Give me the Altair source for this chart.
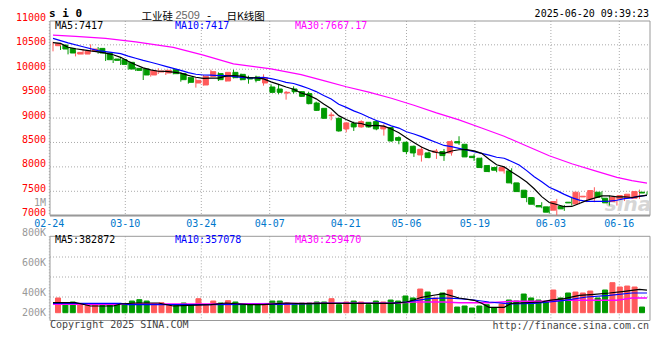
import altair as alt
import pandas as pd

# ---------------- data ----------------
opens = [10482, 10495, 10427, 10311, 10311, 10366, 10427, 10332, 10209, 10195,
         10141, 10018, 10004, 9882, 9943, 9923, 9991, 9909, 9827, 9718,
         9677, 9854, 9909, 9759, 9936, 9895, 9827, 9841, 9718, 9636,
         9595, 9513, 9595, 9540, 9500, 9308, 9199, 9049, 8995, 8777,
         8886, 8818, 8913, 8927, 8777, 8804, 8599, 8504, 8422, 8245,
         8286, 8299, 8313, 8285, 8517, 8463, 8217, 8177, 8026, 7986,
         7918, 7918, 7672, 7522, 7372, 7208, 7181, 7113, 7194, 7276,
         7240, 7385, 7344, 7481, 7358, 7290, 7344, 7370, 7358, 7481]
highs = [10564, 10515, 10447, 10379, 10413, 10509, 10454, 10359, 10263, 10236,
         10154, 10045, 10018, 9991, 10018, 9991, 10004, 9936, 9841, 9827,
         9882, 9991, 9936, 9936, 9991, 9909, 9868, 9868, 9895, 9690,
         9677, 9554, 9650, 9554, 9540, 9336, 9199, 9117, 9009, 8913,
         8927, 8954, 8913, 8954, 8872, 8804, 8626, 8517, 8436, 8422,
         8313, 8367, 8367, 8545, 8627, 8463, 8258, 8190, 8040, 8013,
         8013, 7972, 7672, 7522, 7372, 7276, 7194, 7344, 7221, 7385,
         7481, 7481, 7583, 7500, 7410, 7413, 7440, 7500, 7535, 7494]
lows = [10366, 10394, 10304, 10263, 10300, 10345, 10318, 10168, 10127, 10086,
        9991, 9963, 9779, 9848, 9902, 9882, 9895, 9745, 9704, 9623,
        9663, 9854, 9759, 9745, 9813, 9772, 9704, 9731, 9663, 9513,
        9486, 9377, 9500, 9431, 9281, 9145, 8995, 8954, 8722, 8708,
        8736, 8804, 8804, 8750, 8640, 8517, 8463, 8258, 8204, 8108,
        8177, 8163, 8122, 8231, 8449, 8204, 8122, 7972, 7890, 7890,
        7863, 7645, 7481, 7276, 7208, 7153, 7044, 7010, 7099, 7208,
        7235, 7276, 7276, 7344, 7208, 7208, 7300, 7344, 7344, 7430]
closes = [10523, 10414, 10332, 10345, 10365, 10413, 10332, 10195, 10182, 10100,
          10004, 9977, 9882, 9970, 9963, 9977, 9909, 9786, 9732, 9772,
          9854, 9950, 9786, 9936, 9827, 9786, 9800, 9772, 9827, 9527,
          9527, 9527, 9540, 9445, 9295, 9158, 8995, 9063, 8736, 8900,
          8818, 8927, 8818, 8777, 8831, 8531, 8544, 8313, 8285, 8360,
          8190, 8326, 8231, 8517, 8490, 8204, 8190, 7986, 7904, 7931,
          7986, 7672, 7494, 7372, 7235, 7181, 7072, 7290, 7140, 7262,
          7481, 7399, 7515, 7378, 7263, 7372, 7413, 7440, 7494, 7465]
volumes_k = [260, 171, 189, 159, 124, 141, 124, 150, 150, 141,
             206, 230, 206, 159, 177, 130, 141, 171, 141, 247,
             141, 206, 171, 212, 189, 150, 150, 141, 141, 206,
             206, 171, 150, 171, 171, 189, 189, 247, 141, 189,
             206, 189, 141, 206, 189, 224, 206, 295, 260, 418,
             365, 260, 348, 401, 100, 118, 83, 118, 141, 83,
             153, 224, 206, 330, 260, 224, 206, 401, 260, 348,
             365, 348, 383, 260, 401, 530, 454, 471, 454, 100]

# moving-average lines, one value per trading day (index 0..79)
ma5_val = [10545, 10530, 10450, 10420, 10396, 10374, 10357, 10330, 10297, 10244,
           10163, 10092, 10029, 9987, 9959, 9954, 9940, 9921, 9873, 9835,
           9811, 9819, 9819, 9860, 9871, 9857, 9827, 9824, 9802, 9742,
           9691, 9636, 9590, 9513, 9467, 9393, 9287, 9191, 9049, 8970,
           8902, 8889, 8840, 8848, 8834, 8777, 8700, 8599, 8501, 8407,
           8338, 8295, 8278, 8325, 8351, 8354, 8326, 8277, 8155, 8043,
           7999, 7896, 7797, 7691, 7552, 7391, 7271, 7230, 7184, 7189,
           7249, 7314, 7359, 7407, 7407, 7385, 7388, 7373, 7396, 7420]
ma10_idx = [0, 2, 4, 6, 8] + list(range(9, 80))
ma10_val = [10632, 10540, 10460, 10380, 10340,
            10320, 10268, 10225, 10180, 10142, 10102, 10058, 10016, 9975, 9930,
            9897, 9882, 9880, 9870, 9867, 9853, 9834, 9823, 9822, 9831,
            9807, 9774, 9732, 9707, 9658, 9605, 9542, 9461, 9390, 9281,
            9219, 9148, 9088, 9016, 8949, 8902, 8840, 8795, 8720, 8674,
            8620, 8558, 8498, 8439, 8413, 8379, 8346, 8311, 8278, 8240,
            8197, 8177, 8111, 8037, 7923, 7797, 7695, 7583, 7514, 7437,
            7370, 7320, 7293, 7295, 7295, 7298, 7317, 7351, 7366, 7402, 7417]
ma30_idx = [0, 3, 7, 11, 16, 20, 24, 29, 33, 36, 39, 42, 45, 48, 51, 54, 57, 60, 63,
            66, 69, 72, 75, 77, 79]
ma30_val = [10700, 10673, 10632, 10560, 10448, 10290, 10110, 10008, 9889, 9767, 9641,
            9531, 9405, 9262, 9106, 8962, 8796, 8627, 8428, 8229, 8063, 7924, 7786,
            7719, 7667]

vma5_idx = [0, 3, 5, 8, 9, 11, 14, 16, 18, 21, 23, 26, 28, 31, 33, 36, 45, 47, 48, 49,
            50, 52, 54, 56, 57, 58, 60, 61, 65, 66, 68, 70, 72, 74, 76, 78, 79]
vma5_val = [177, 177, 118, 118, 154, 171, 171, 118, 130, 142, 171, 142, 142, 171, 160, 166,
            166, 189, 224, 272, 295, 336, 260, 219, 166, 95, 95, 166, 189, 219, 248, 307, 325,
            348, 378, 413, 400]
vma10_idx = [0, 9, 10, 14, 20, 30, 36, 45, 47, 50, 52, 54, 56, 58, 61, 64, 66, 68, 71, 74, 77, 79]
vma10_val = [166, 166, 142, 142, 142, 148, 166, 166, 189, 248, 260, 248, 224, 189, 154, 166,
             189, 219, 277, 307, 348, 348]
vma30_idx = [0, 8, 9, 20, 36, 45, 48, 52, 54, 58, 61, 66, 68, 75, 77, 79]
vma30_val = [148, 148, 154, 154, 166, 166, 189, 189, 177, 177, 201, 201, 219, 219, 260, 260]

tick_index = [0, 10, 20, 29, 39, 47, 56, 66, 75]
tick_labels = ["02-24", "03-10", "03-24", "04-07", "04-21", "05-06", "05-19", "06-03", "06-16"]
price_grid = [7500, 8000, 8500, 9000, 9500, 10000, 10500]
price_labels = [11000, 10500, 10000, 9500, 9000, 8500, 8000, 7500, 7000]
vol_labels = ["800K", "600K", "400K", "200K"]

# ---------------- style ----------------
RED = "#ff5a5a"
GREEN = "#009900"
GRID = "#aaaaaa"
FRAME = "#999999"
BLUE_TXT = "#0077cc"
MONO = "DejaVu Sans Mono"
CJK = "Noto Sans CJK SC"

W, H = 600, 300
P_TOP, P_BOT = 0, 194.6
V_TOP, V_BOT = 215.3, 299.5

XS = alt.Scale(domain=[0, 79], range=[3, 597], zero=False, nice=False)
XT = alt.Scale(domain=[0, 79], range=[-0.7, 599.7], zero=False, nice=False)
YP = alt.Scale(domain=[7000, 11000], range=[194.7, -0.6], zero=False, nice=False)
YV = alt.Scale(domain=[-138, 1350], range=[V_BOT, V_TOP], zero=False, nice=False)
CS = alt.Scale(domain=["up", "down"], range=[RED, GREEN])

n = len(closes)
df = pd.DataFrame({"i": list(range(n)), "o": opens, "h": highs, "l": lows,
                   "c": closes, "v": volumes_k})
df["dir"] = ["up" if c >= o else "down" for o, c in zip(opens, closes)]
df["zero"] = 0

one = alt.Data(values=[{}])


def txt(s, x, y, color="black", size=10, align="left", font=MONO, weight="normal", **kw):
    return alt.Chart(one).mark_text(text=s, align=align, baseline="middle", fontSize=size,
                                    font=font, fontWeight=weight, color=color, **kw).encode(
        x=alt.value(x), y=alt.value(y))


def ma_line(idx, val, color, yscale, sw=1.2):
    d = pd.DataFrame({"i": idx, "m": val})
    return alt.Chart(d).mark_line(color=color, strokeWidth=sw).encode(
        x=alt.X("i:Q", scale=XS, axis=None),
        y=alt.Y("m:Q", scale=yscale, axis=None))


xi = alt.X("i:Q", scale=XS, axis=None)
col = alt.Color("dir:N", scale=CS, legend=None)
stk = alt.Stroke("dir:N", scale=CS, legend=None)

# grids & frames
pgrid = alt.Chart(pd.DataFrame({"p": price_grid})).mark_rule(
    color=GRID, strokeDash=[1, 2], strokeWidth=1).encode(
    y=alt.Y("p:Q", scale=YP, axis=None), x=alt.value(0), x2=alt.value(W))
tdf = pd.DataFrame({"t": tick_index, "lab": tick_labels})
vgrid_p = alt.Chart(tdf).mark_rule(color=GRID, strokeDash=[1, 2], strokeWidth=1).encode(
    x=alt.X("t:Q", scale=XT, axis=None), y=alt.value(P_TOP), y2=alt.value(P_BOT))
vgrid_v = alt.Chart(tdf).mark_rule(color=GRID, strokeDash=[1, 2], strokeWidth=1).encode(
    x=alt.X("t:Q", scale=XT, axis=None), y=alt.value(V_TOP), y2=alt.value(V_BOT))
vol_grid_px = pd.DataFrame({"py": [236, 256, 276]})
hgrid_v = alt.Chart(vol_grid_px).mark_rule(color=GRID, strokeDash=[1, 2], strokeWidth=1).encode(
    y=alt.Y("py:Q", scale=None, axis=None), x=alt.value(0), x2=alt.value(W))
frame_p = alt.Chart(one).mark_rect(fill="transparent", stroke=FRAME, strokeWidth=1).encode(
    x=alt.value(0), x2=alt.value(W), y=alt.value(P_TOP), y2=alt.value(P_BOT))
frame_v = alt.Chart(one).mark_rect(fill="transparent", stroke=FRAME, strokeWidth=1).encode(
    x=alt.value(0), x2=alt.value(W), y=alt.value(V_TOP), y2=alt.value(V_BOT))
bottom_axis = alt.Chart(one).mark_rule(color=FRAME, strokeWidth=2).encode(
    x=alt.value(0), x2=alt.value(W), y=alt.value(P_BOT))

# candles
wicks = alt.Chart(df).mark_rule(strokeWidth=1).encode(
    x=xi, y=alt.Y("l:Q", scale=YP, axis=None), y2="h:Q", color=col)
bodies = alt.Chart(df).mark_bar(size=5, strokeWidth=1).encode(
    x=xi, y=alt.Y("o:Q", scale=YP, axis=None), y2="c:Q", color=col, stroke=stk)
vbars = alt.Chart(df).mark_bar(size=5, strokeWidth=1).encode(
    x=xi, y=alt.Y("v:Q", scale=YV, axis=None), y2="zero:Q", color=col, stroke=stk)

# labels
plab = alt.Chart(pd.DataFrame({"p": price_labels})).mark_text(
    align="right", baseline="middle", font=MONO, fontSize=10, color="#ff0000", dy=-2.5).encode(
    y=alt.Y("p:Q", scale=YP, axis=None), x=alt.value(-4), text="p:Q")
xlab = alt.Chart(tdf).mark_text(align="center", baseline="middle", font=MONO, fontSize=10,
                                color=BLUE_TXT).encode(
    x=alt.X("t:Q", scale=XT, axis=None), y=alt.value(202.7), text="lab:N")

texts = [
    txt("s i 0", -1, -7, size=11, weight="bold"),
    txt("工业硅", 91.5, -4, size=10.5, font=CJK),
    txt("2509", 125.5, -5.5, color="#666666", size=11, font="Liberation Sans"),
    txt("-", 159, -5.5, size=11, align="center"),
    txt("日K线图", 176.5, -4, size=10.5, font=CJK),
    txt("2025-06-20 09:39:23", 599, -7, size=10, align="right"),
    txt("MA5:7417", 5, 5),
    txt("MA10:7417", 125, 5, color="#0000ff"),
    txt("MA30:7667.17", 245, 5, color="#ff00ff"),
    txt("MA5:382872", 5, 219.3),
    txt("MA10:357078", 125, 219.3, color="#0000ff"),
    txt("MA30:259470", 245, 219.3, color="#ff00ff"),
    txt("1M", -4, 182, color="#999999", align="right"),
    txt(vol_labels[0], -4, 212, color="#999999", align="right"),
    txt(vol_labels[1], -4, 242, color="#999999", align="right"),
    txt(vol_labels[2], -4, 272, color="#999999", align="right"),
    txt(vol_labels[3], -4, 291.7, color="#999999", align="right"),
    txt("Copyright 2025 SINA.COM", 0, 304.3, color="#444444"),
    txt("http://finance.sina.com.cn", 599, 304.8, color="#444444", align="right"),
    txt("sina", 578, 184, color="#d6d6d6", size=20, font="DejaVu Sans", weight="bold",
        align="center", fontStyle="italic"),
]

layers = [pgrid, vgrid_p, vgrid_v, hgrid_v, frame_p, frame_v, bottom_axis,
          texts[-1],
          wicks, bodies,
          ma_line(ma30_idx, ma30_val, "#ff00ff", YP),
          ma_line(ma10_idx, ma10_val, "#0000ff", YP),
          ma_line(list(range(len(ma5_val))), ma5_val, "#000000", YP),
          vbars,
          ma_line(vma30_idx, vma30_val, "#ff00ff", YV, 1.5),
          ma_line(vma10_idx, vma10_val, "#0000ff", YV),
          ma_line(vma5_idx, vma5_val, "#000000", YV),
          plab, xlab] + texts[:-1]

chart = alt.layer(*layers).resolve_scale(
    x="independent", y="independent"
).properties(
    width=W, height=H,
    autosize=alt.AutoSizeParams(type="none"),
    padding={"left": 42, "top": 13, "right": 2, "bottom": 20},
    background="white",
).configure_view(stroke=None)

chart.save("out.html", embed_options={"renderer": "svg", "actions": False})
